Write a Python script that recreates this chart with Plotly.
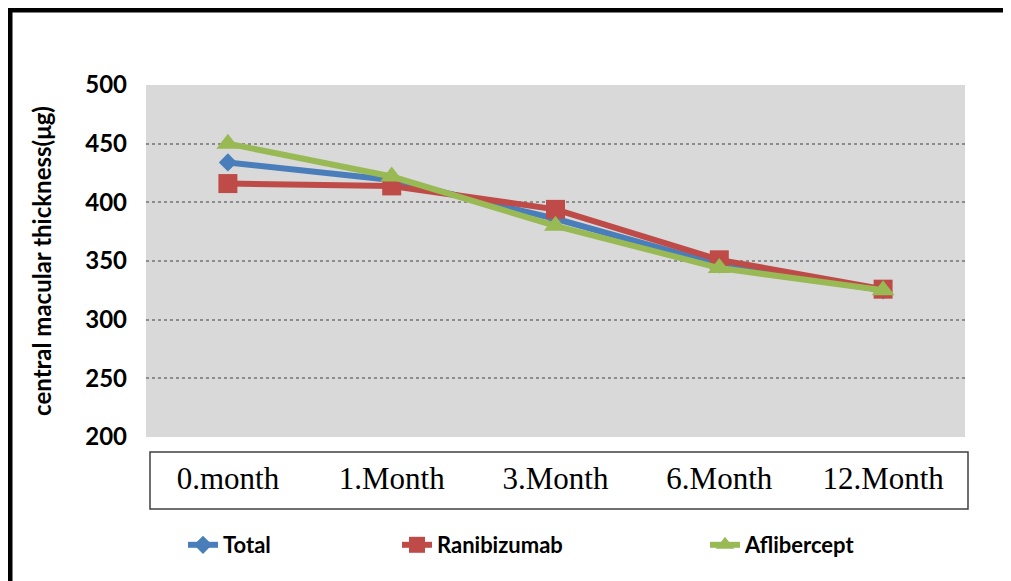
import plotly.graph_objects as go

# ---- data ----
categories = ["0.month", "1.Month", "3.Month", "6.Month", "12.Month"]
total = [434, 419, 386, 347, 325]
ranibizumab = [416, 414, 394, 351, 326]
aflibercept = [450, 422, 380, 344, 325]
y_ticks = [200, 250, 300, 350, 400, 450, 500]

W, H = 1011, 581
OFF = 8  # page body margin offset
L, T = 146 - OFF, 85 - OFF
PW, PH = 819, 352
R, B = W - L - PW, H - T - PH


def px_x(x):  # page pixel -> paper
    return (x - OFF - L) / PW


def px_y(y):
    return (T + PH - (y - OFF)) / PH


series = [
    ("Total", total, "#4A7EBB", "diamond", 14, "legend", 183),
    ("Ranibizumab", ranibizumab, "#BE4B48", "square", 19, "legend2", 397),
    ("Aflibercept", aflibercept, "#98B954", "triangle-up", 20, "legend3", 705),
]

fig = go.Figure()
for name, vals, col, sym, sz, lg, _ in series:
    fig.add_trace(go.Scatter(
        x=categories, y=vals, name=name, mode="lines+markers",
        line=dict(color=col, width=6),
        marker=dict(symbol=sym, size=sz, color=col, line=dict(width=0)),
        legend=lg, showlegend=True,
    ))

legend_font = dict(family="Lato", size=22, color="black", weight="bold")
leg_common = dict(orientation="h", yanchor="middle", xanchor="left",
                  bgcolor="rgba(0,0,0,0)", font=legend_font)

fig.update_layout(
    width=W, height=H,
    margin=dict(l=L, r=R, t=T, b=B),
    paper_bgcolor="white",
    plot_bgcolor="#D9D9D9",
    showlegend=True,
    legend=dict(x=px_x(series[0][6]), y=px_y(545), **leg_common),
    legend2=dict(x=px_x(series[1][6]), y=px_y(545), **leg_common),
    legend3=dict(x=px_x(series[2][6]), y=px_y(545), **leg_common),
    xaxis=dict(
        type="category", categoryarray=categories, range=[-0.5, 4.5],
        showgrid=False, zeroline=False, showline=False, ticks="",
        tickfont=dict(family="Liberation Serif", size=31, color="black"),
        ticklabelstandoff=20,
    ),
    yaxis=dict(
        range=[200, 500], tickvals=y_ticks, showgrid=True,
        gridcolor="#8C8C8C", griddash="dot", gridwidth=2,
        zeroline=False, showline=False, ticks="",
        tickfont=dict(family="Lato", size=24, color="black", weight="bold"),
        ticklabelstandoff=18,
        title=dict(text="central macular thickness(μg)",
                   font=dict(family="Lato", size=24, color="black", weight="bold"),
                   standoff=26),
    ),
    shapes=[
        # category label box
        dict(type="rect", xref="paper", yref="paper",
             x0=px_x(150), x1=px_x(968), y0=px_y(452), y1=px_y(509),
             line=dict(color="#404040", width=1.5), fillcolor="rgba(0,0,0,0)"),
        # outer frame (top and left)
        dict(type="line", xref="paper", yref="paper",
             x0=px_x(10), x1=px_x(W + 20), y0=px_y(10), y1=px_y(10),
             line=dict(color="black", width=5)),
        dict(type="line", xref="paper", yref="paper",
             x0=px_x(10), x1=px_x(10), y0=px_y(8), y1=px_y(H + 20),
             line=dict(color="black", width=5)),
    ],
)

fig.write_html("out.html")
